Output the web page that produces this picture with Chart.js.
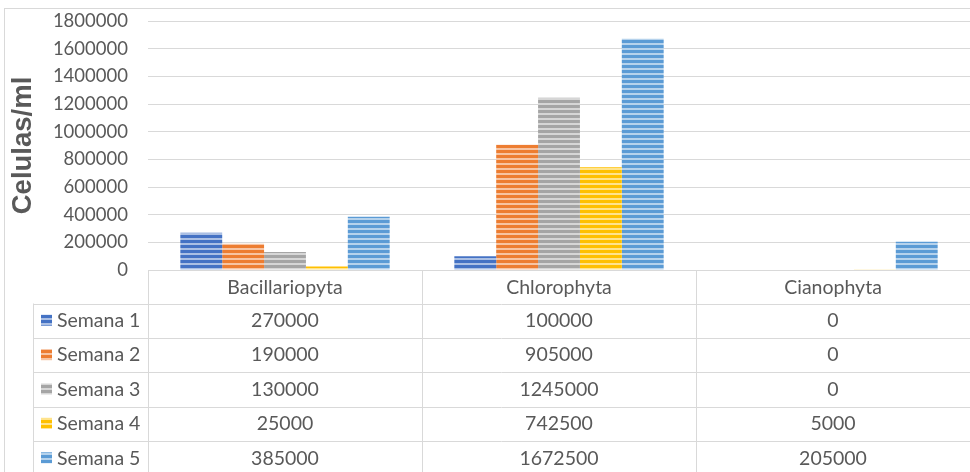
<!DOCTYPE html>
<html>
<head>
<meta charset="utf-8">
<script src="https://cdn.jsdelivr.net/npm/chart.js@4/dist/chart.umd.min.js"></script>
<style>
  html, body { margin: 0; padding: 0; background: #fff; }
  #wrap { width: 970px; height: 472px; }
</style>
</head>
<body>
<div id="wrap"><canvas id="c" width="970" height="472"></canvas></div>
<script>
const categories = ['Bacillariopyta', 'Chlorophyta', 'Cianophyta'];
const seriesNames = ['Semana 1', 'Semana 2', 'Semana 3', 'Semana 4', 'Semana 5'];
const semana1 = [270000, 100000, 0];
const semana2 = [190000, 905000, 0];
const semana3 = [130000, 1245000, 0];
const semana4 = [25000, 742500, 5000];
const semana5 = [385000, 1672500, 205000];
const seriesColors = ['#4472C4', '#ED7D31', '#A5A5A5', '#FFC000', '#5B9BD5'];

const TEXT = '#595959';
const LINE = '#d9d9d9';
const FONT = 'Lato, "Open Sans", sans-serif';

// horizontal stripe fill like the Excel pattern
function stripes(color) {
  const c = document.createElement('canvas');
  c.width = 4; c.height = 5;
  const g = c.getContext('2d');
  g.fillStyle = color;
  g.fillRect(0, 0, 4, 5);
  g.fillStyle = 'rgba(255,255,255,0.55)';
  g.fillRect(0, 3, 4, 2);
  return g.createPattern(c, 'repeat');
}

const allValues = [semana1, semana2, semana3, semana4, semana5];
const datasets = seriesNames.map((name, i) => ({
  label: name,
  data: allValues[i],
  backgroundColor: stripes(seriesColors[i]),
  borderWidth: 0,
  categoryPercentage: 0.764,
  barPercentage: 1
}));

// data table under the plot, Excel style
const tablePlugin = {
  id: 'dataTable',
  afterDraw(chart) {
    const ctx = chart.ctx;
    const area = chart.chartArea;
    const xs = chart.scales.x;
    const n = categories.length;
    const colW = (area.right - area.left) / n;
    const headTop = area.bottom;
    const rowH = 34.4;
    const headBottom = headTop + 33.5;
    const leftCol = 33;
    const W = chart.width, H = chart.height;

    ctx.save();
    ctx.strokeStyle = LINE;
    ctx.lineWidth = 1;
    ctx.beginPath();
    // outer chart border (left + top)
    ctx.moveTo(4.5, 8); ctx.lineTo(4.5, H);
    ctx.moveTo(4, 8.5); ctx.lineTo(W, 8.5);
    // column separators
    for (let i = 0; i < n; i++) {
      const x = Math.round(area.left + colW * i) + 0.5;
      ctx.moveTo(x, headTop); ctx.lineTo(x, H);
    }
    // left legend column
    ctx.moveTo(leftCol + 0.5, headBottom); ctx.lineTo(leftCol + 0.5, H);
    // row lines
    for (let r = 0; r < seriesNames.length; r++) {
      const y = Math.round(headBottom + rowH * r) + 0.5;
      ctx.moveTo(leftCol, y); ctx.lineTo(W, y);
    }
    ctx.stroke();

    ctx.fillStyle = TEXT;
    ctx.font = '19.5px ' + FONT;
    ctx.textBaseline = 'middle';
    ctx.textAlign = 'center';
    categories.forEach((cat, i) => {
      ctx.fillText(cat, xs.getPixelForValue(i), headTop + 18);
    });
    seriesNames.forEach((name, r) => {
      const yc = headBottom + rowH * r + rowH / 2;
      ctx.fillStyle = chart.data.datasets[r].backgroundColor;
      ctx.fillRect(41, yc - 6, 11, 11);
      ctx.fillStyle = TEXT;
      ctx.textAlign = 'left';
      ctx.fillText(name, 57, yc);
      ctx.textAlign = 'center';
      allValues[r].forEach((v, i) => {
        ctx.fillText(String(v), xs.getPixelForValue(i), yc);
      });
    });
    ctx.restore();
  }
};

new Chart(document.getElementById('c'), {
  type: 'bar',
  data: { labels: categories, datasets },
  plugins: [tablePlugin],
  options: {
    responsive: false,
    animation: false,
    layout: { padding: { top: 21, bottom: 202, left: 0, right: 0 } },
    plugins: { legend: { display: false }, tooltip: { enabled: false } },
    scales: {
      x: { display: false },
      y: {
        min: 0,
        max: 1800000,
        ticks: {
          stepSize: 200000,
          padding: 20,
          color: TEXT,
          font: { family: FONT, size: 18.5 },
          callback: (v) => String(v)
        },
        grid: { color: LINE, lineWidth: 1, drawTicks: false },
        border: { display: false },
        title: {
          display: true,
          text: 'Celulas/ml',
          color: TEXT,
          font: { family: '"Liberation Sans", Arial, sans-serif', size: 27.5, weight: 'bold' },
          padding: { top: 7, bottom: 0 }
        },
        afterFit(scale) {
          scale.width = 148;
          scale.paddingTop = 0;
          scale.paddingBottom = 0;
        }
      }
    }
  }
});
</script>
</body>
</html>
